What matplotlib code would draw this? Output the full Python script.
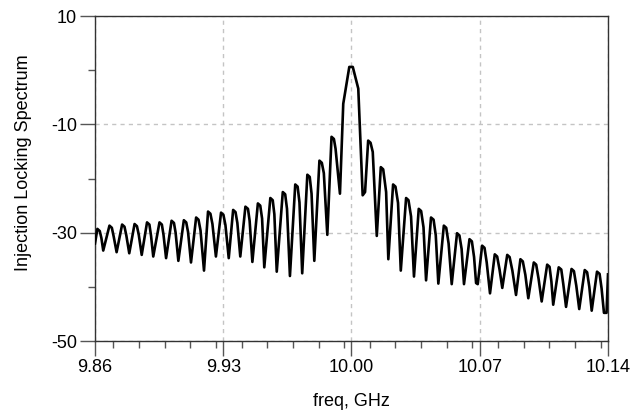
import numpy as np
import matplotlib
matplotlib.use("Agg")
import matplotlib.pyplot as plt
from matplotlib.ticker import MultipleLocator

plt.rcParams['font.family'] = ['Liberation Sans', 'DejaVu Sans']
plt.rcParams['axes.unicode_minus'] = False

# ── Trace: offset from 10 GHz [MHz] and level [dB] ──
offset_mhz = [
    -140.0,
    -138.7, -137.4, -136.5, -135.5,
    -132.1, -130.8, -129.8, -128.2,
    -125.2, -123.9, -122.9, -121.3,
    -118.4, -117.1, -116.1, -114.5,
    -111.6, -110.3, -109.4, -108.2,
    -104.8, -103.5, -102.6, -101.2,
    -98.2, -96.9, -96.0, -94.5,
    -91.5, -90.2, -89.2, -87.6,
    -84.8, -83.5, -82.4, -80.5,
    -78.3, -77.0, -75.9, -74.0,
    -71.2, -69.9, -68.8, -67.0,
    -64.6, -63.3, -62.3, -60.7,
    -57.9, -56.5, -55.6, -54.1,
    -51.1, -49.8, -48.8, -47.6,
    -44.3, -43.0, -42.1, -40.8,
    -37.5, -36.2, -35.2, -33.6,
    -30.7, -29.4, -28.4, -26.9,
    -24.1, -22.8, -21.8, -20.3,
    -17.5, -16.2, -15.1, -13.2,
    -10.9, -9.6, -8.7, -6.3,
    -4.5, -1.2, 0.7, 3.7, 6.1, 7.4,
    9.1, 10.4, 11.6, 13.8,
    16.0, 17.3, 18.9, 20.1,
    22.7, 24.0, 25.4, 26.9,
    29.8, 31.1, 32.5, 34.1,
    36.7, 38.0, 39.3, 40.7,
    43.4, 44.8, 46.0, 47.4,
    50.4, 51.7, 53.0, 54.7,
    57.6, 58.9, 60.1, 61.4,
    64.4, 65.7, 66.9, 68.0, 68.9,
    71.3, 72.6, 73.8, 75.6,
    78.2, 79.5, 80.8, 82.3,
    85.0, 86.3, 87.8, 89.8,
    92.2, 93.5, 94.9, 96.5,
    99.5, 100.8, 102.1, 103.8,
    106.8, 108.1, 109.1, 110.1,
    113.1, 114.5, 115.6, 117.1,
    120.1, 121.4, 122.7, 124.3,
    127.3, 128.6, 129.8, 131.1,
    134.0, 135.4, 136.5, 137.8, 139.2,
    140.0,
]
level_db = [
    -32.0,
    -29.3, -29.7, -31.0, -33.3,
    -28.7, -29.1, -30.7, -33.6,
    -28.5, -28.9, -30.5, -33.8,
    -28.4, -28.8, -30.4, -34.1,
    -28.1, -28.5, -30.6, -34.4,
    -28.1, -28.5, -30.4, -34.7,
    -27.8, -28.2, -30.0, -35.2,
    -27.7, -28.1, -29.9, -35.5,
    -27.2, -27.6, -29.6, -37.0,
    -26.1, -26.5, -28.4, -34.4,
    -26.3, -26.7, -28.6, -34.7,
    -25.8, -26.2, -28.2, -34.4,
    -25.2, -25.6, -27.8, -35.4,
    -24.6, -25.0, -27.4, -36.4,
    -23.6, -24.0, -26.6, -37.2,
    -22.5, -22.9, -25.6, -38.0,
    -21.1, -21.5, -24.4, -37.5,
    -19.3, -19.7, -22.8, -35.2,
    -16.7, -17.1, -19.0, -30.4,
    -12.3, -12.7, -14.5, -22.8,
    -6.2, 0.6, 0.6, -3.4, -23.1, -22.5,
    -13.0, -13.4, -15.1, -30.6,
    -17.9, -18.3, -22.5, -34.9,
    -21.1, -21.5, -24.5, -37.0,
    -23.6, -24.0, -27.0, -38.1,
    -25.6, -26.0, -29.0, -38.8,
    -27.2, -27.6, -30.5, -39.4,
    -28.7, -29.1, -32.0, -39.5,
    -30.1, -30.5, -33.0, -39.5,
    -31.2, -31.6, -34.5, -39.3, -39.5,
    -32.4, -32.8, -35.5, -41.2,
    -34.0, -34.4, -36.8, -40.2,
    -34.1, -34.5, -37.0, -41.5,
    -34.9, -35.3, -37.8, -42.1,
    -35.5, -35.9, -38.5, -42.7,
    -35.9, -36.3, -39.0, -43.3,
    -36.4, -36.8, -39.5, -43.7,
    -36.7, -37.1, -39.8, -44.1,
    -36.9, -37.3, -40.0, -44.4,
    -37.2, -37.6, -40.3, -44.8, -44.8,
    -37.7,
]

x_ticks = [9.86, 9.93, 10.00, 10.07, 10.14]
x_labels = ["9.86", "9.93", "10.00", "10.07", "10.14"]
y_ticks = [10, -10, -30, -50]

freq_ghz = 10.0 + np.array(offset_mhz) / 1000.0

fig = plt.figure(figsize=(6.44, 4.15), dpi=100)
ax = fig.add_axes([0.1475, 0.1783, 0.7966, 0.7831])

ax.plot(freq_ghz, level_db, color="black", linewidth=1.9, zorder=3)

ax.set_xlim(9.86, 10.14)
ax.set_ylim(-50, 10)
ax.set_xticks(x_ticks, x_labels)
ax.xaxis.set_minor_locator(MultipleLocator(0.014))
ax.set_yticks(y_ticks)
ax.yaxis.set_minor_locator(MultipleLocator(10))

ax.set_axisbelow(True)
ax.grid(True, which="major", color="#c4c4c4", linestyle=(0, (3, 3)), linewidth=1)
ax.tick_params(which="major", length=11, width=1, color="#555555",
               labelsize=13, pad=2)
ax.tick_params(which="minor", length=5, width=1, color="#555555")
for s in ax.spines.values():
    s.set_color("#333333")
    s.set_linewidth(1)

ax.set_xlabel("freq, GHz", fontsize=13)
ax.set_ylabel("Injection Locking Spectrum", fontsize=13)
ax.xaxis.set_label_coords(0.5, -0.16)
ax.yaxis.set_label_coords(-0.123, 0.55)

fig.savefig("out.png", dpi=100)
